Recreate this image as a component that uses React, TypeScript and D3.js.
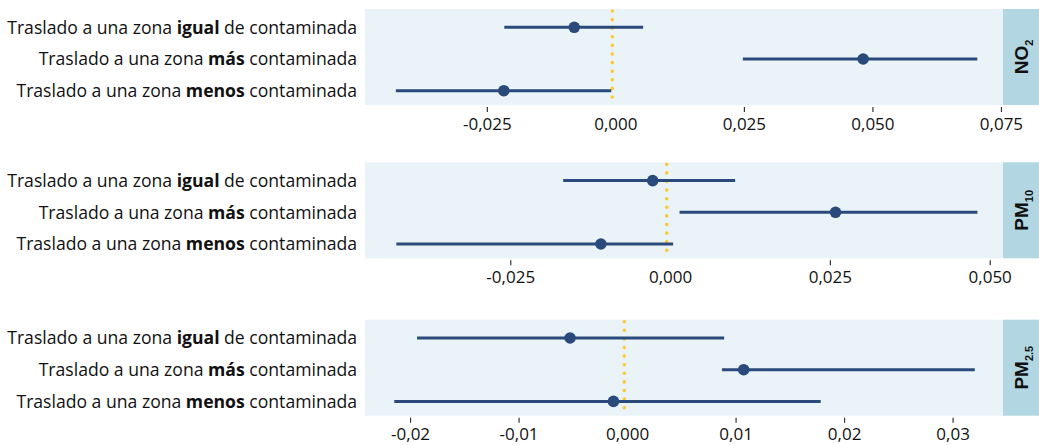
import React from "react";
import * as d3 from "d3";

// ---- data ----
const categories = ["igual", "más", "menos"];
const catPrefix = "Traslado a una zona ";
const catSuffix = [" de contaminada", " contaminada", " contaminada"];

const pollutantMain = ["NO", "PM", "PM"];
const pollutantSub = ["2", "10", "2.5"];

const no2Est = [-0.0081, 0.0481, -0.0218];
const no2Low = [-0.0217, 0.0247, -0.0428];
const no2High = [0.0053, 0.0703, -0.0009];

const pm10Est = [-0.0028, 0.0258, -0.0109];
const pm10Low = [-0.0168, 0.0014, -0.0429];
const pm10High = [0.0101, 0.048, 0.0004];

const pm25Est = [-0.0053, 0.0107, -0.0013];
const pm25Low = [-0.0194, 0.0087, -0.0215];
const pm25High = [0.0089, 0.032, 0.0178];

const no2Domain = [-0.0488, 0.0753];
const pm10Domain = [-0.0478, 0.052];
const pm25Domain = [-0.0242, 0.0346];

const no2Ticks = [-0.025, 0, 0.025, 0.05, 0.075];
const no2TickLabels = ["-0,025", "0,000", "0,025", "0,050", "0,075"];
const pm10Ticks = [-0.025, 0, 0.025, 0.05];
const pm10TickLabels = ["-0,025", "0,000", "0,025", "0,050"];
const pm25Ticks = [-0.02, -0.01, 0, 0.01, 0.02, 0.03];
const pm25TickLabels = ["-0,02", "-0,01", "0,000", "0,01", "0,02", "0,03"];

const refLines = [-0.0007, -0.0006, -0.0003];

// ---- layout ----
const W = 1039;
const H = 445;
const panelLeft = 365;
const panelRight = 1003;
const stripRight = 1039;
const panelTops = [9, 162.3, 319.7];
const panelH = 96;

const NAVY = "#2a4a7b";
const PANEL_BG = "#eaf3f7";
const STRIP_BG = "#b2d7e2";
const YELLOW = "#fbc935";
const FONT = "'Open Sans', 'Noto Sans', sans-serif";

const panels = [
  { est: no2Est, low: no2Low, high: no2High, domain: no2Domain, ticks: no2Ticks, tickLabels: no2TickLabels },
  { est: pm10Est, low: pm10Low, high: pm10High, domain: pm10Domain, ticks: pm10Ticks, tickLabels: pm10TickLabels },
  { est: pm25Est, low: pm25Low, high: pm25High, domain: pm25Domain, ticks: pm25Ticks, tickLabels: pm25TickLabels },
];

function Panel({ idx }: { idx: number }) {
  const p = panels[idx];
  const top = panelTops[idx];
  const bottom = top + panelH;
  const x = d3.scaleLinear().domain(p.domain).range([panelLeft, panelRight]);
  const y = d3
    .scalePoint<string>()
    .domain(categories)
    .range([top + 18.3, top + 81.7]);
  const stripCx = (panelRight + stripRight) / 2;
  const stripCy = top + panelH / 2;
  return (
    <g>
      <rect x={panelLeft} y={top} width={panelRight - panelLeft} height={panelH} fill={PANEL_BG} />
      <rect x={panelRight} y={top} width={stripRight - panelRight} height={panelH} fill={STRIP_BG} />
      <text
        transform={`translate(${stripCx + 7},${stripCy}) rotate(-90)`}
        textAnchor="middle"
        fontFamily="'Liberation Sans', Arial, sans-serif"
        fontWeight="bold"
        fontSize={19}
        fill="#111"
      >
        {pollutantMain[idx]}
        <tspan fontSize={11} dy={5}>
          {pollutantSub[idx]}
        </tspan>
      </text>
      {/* reference line */}
      <line
        x1={x(refLines[idx])}
        x2={x(refLines[idx])}
        y1={top + 2}
        y2={bottom}
        stroke={YELLOW}
        strokeWidth={3.6}
        strokeLinecap="round"
        strokeDasharray="0 8.6"
      />
      {/* intervals */}
      {categories.map((c, i) => (
        <g key={c}>
          <line x1={x(p.low[i])} x2={x(p.high[i])} y1={y(c)} y2={y(c)} stroke={NAVY} strokeWidth={3} />
          <circle cx={x(p.est[i])} cy={y(c)} r={5.8} fill={NAVY} />
        </g>
      ))}
      {/* y labels */}
      {categories.map((c, i) => (
        <text
          key={"l" + c}
          x={357}
          y={y(c)}
          dy="0.36em"
          textAnchor="end"
          fontFamily={FONT}
          fontSize={17.6}
          fill="#111"
        >
          {catPrefix}
          <tspan fontWeight="bold">{c}</tspan>
          {catSuffix[i]}
        </text>
      ))}
      {/* x axis */}
      {p.ticks.map((t, i) => (
        <g key={"t" + i}>
          {t !== 0 && (
            <line x1={x(t)} x2={x(t)} y1={bottom + 2} y2={bottom + 7} stroke="#333" strokeWidth={1.2} />
          )}
          <text
            x={x(t)}
            y={bottom + 24.5}
            textAnchor="middle"
            fontFamily={FONT}
            fontSize={17}
            fill="#111"
          >
            {p.tickLabels[i]}
          </text>
        </g>
      ))}
    </g>
  );
}

export default function App() {
  return (
    <svg
      width={W}
      height={H}
      style={{ position: "absolute", left: 0, top: 0, background: "#fff" }}
    >
      {panels.map((_, i) => (
        <Panel key={i} idx={i} />
      ))}
    </svg>
  );
}
